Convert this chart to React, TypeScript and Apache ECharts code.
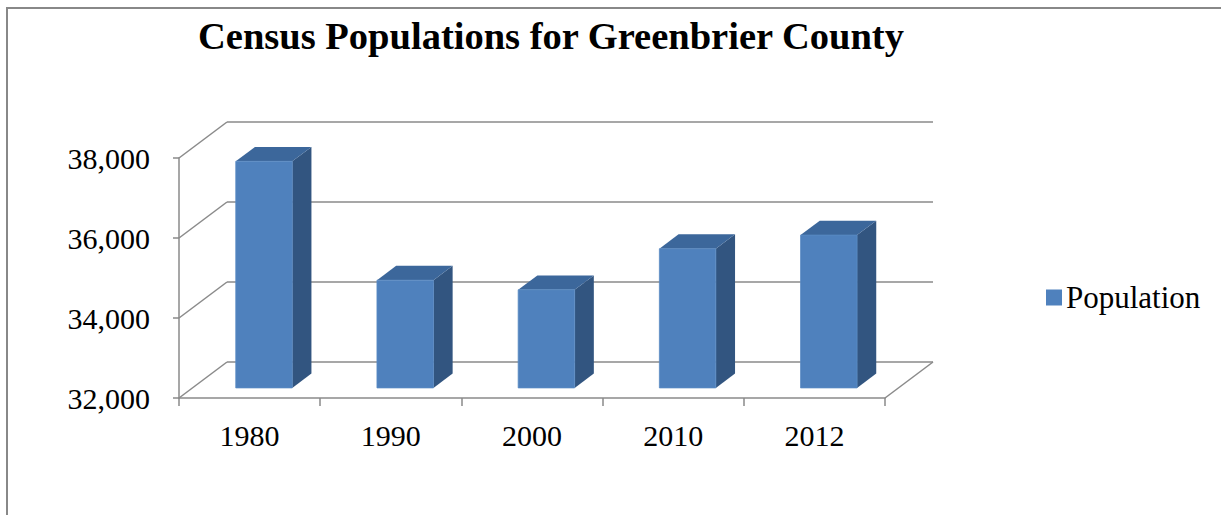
import React, { useEffect, useRef } from "react";
import * as echarts from "echarts";

const categories = ["1980", "1990", "2000", "2010", "2012"];
const population = [37665, 34693, 34453, 35480, 35820];
const yTicks = [32000, 34000, 36000, 38000];
const titleText = "Census Populations for Greenbrier County";
const seriesName = "Population";

const Y_MIN = 32000;
const Y_MAX = 38000;
const DX = 48;
const DY = -36;
const GRID_COLOR = "#8a8a8a";
const FONT = "'Liberation Serif', 'Times New Roman', serif";

export default function App() {
  const ref = useRef<HTMLDivElement>(null);
  useEffect(() => {
    if (!ref.current) return;
    const chart = echarts.init(ref.current, null, { renderer: "svg" });
    const barData = categories.map((c, i) => [i, population[i]]);
    const frameData = yTicks.map((v) => [0, v]);
    chart.setOption({
      animation: false,
      color: ["#4F81BD"],
      grid: { left: 179, right: 336, top: 158, bottom: 117, containLabel: false },
      graphic: [
        {
          type: "line",
          shape: { x1: 7, y1: 8, x2: 7, y2: 515 },
          style: { stroke: "#888888", lineWidth: 2 },
          silent: true,
        },
        {
          type: "line",
          shape: { x1: 6, y1: 8, x2: 1221, y2: 8 },
          style: { stroke: "#888888", lineWidth: 2 },
          silent: true,
        },
        {
          type: "text",
          x: 551,
          y: 36,
          style: {
            text: titleText,
            font: `bold 38.5px ${FONT}`,
            fill: "#000",
            textAlign: "center",
            textVerticalAlign: "middle",
          },
        },
      ],
      legend: {
        data: [seriesName],
        left: 1041,
        top: 277,
        icon: "rect",
        itemWidth: 16,
        itemHeight: 16,
        itemGap: 8,
        textStyle: { fontSize: 31, fontFamily: FONT, color: "#000", padding: [0, 0, 0, -1] },
      },
      xAxis: {
        type: "category",
        data: categories,
        axisLine: { lineStyle: { color: GRID_COLOR, width: 1.5 } },
        axisTick: { show: true, length: 8, lineStyle: { color: GRID_COLOR, width: 1.5 } },
        axisLabel: { fontSize: 30, fontFamily: FONT, color: "#000", margin: 22 },
        splitLine: { show: false },
      },
      yAxis: {
        type: "value",
        min: Y_MIN,
        max: Y_MAX,
        interval: 2000,
        axisLine: { show: true, lineStyle: { color: GRID_COLOR, width: 1.5 } },
        axisTick: { show: true, length: 6, lineStyle: { color: GRID_COLOR, width: 1.5 } },
        axisLabel: {
          fontSize: 30,
          fontFamily: FONT,
          color: "#000",
          margin: 29,
          formatter: (v: number) => v.toLocaleString("en-US"),
        },
        splitLine: { show: false },
      },
      series: [
        {
          type: "custom",
          name: "frame",
          z: 1,
          silent: true,
          data: frameData,
          encode: { x: 0, y: 1 },
          renderItem: (params: any, api: any) => {
            const cs = params.coordSys;
            const L = cs.x;
            const R = cs.x + cs.width;
            const v = api.value(1);
            const y = api.coord([0, v])[1];
            const style = { stroke: GRID_COLOR, lineWidth: 1.5, fill: "none" };
            const children: any[] = [
              { type: "line", shape: { x1: L, y1: y, x2: L + DX, y2: y + DY }, style },
              { type: "line", shape: { x1: L + DX, y1: y + DY, x2: R + DX, y2: y + DY }, style },
            ];
            if (v === Y_MIN) {
              children.push({ type: "line", shape: { x1: R, y1: y, x2: R + DX, y2: y + DY }, style });
            }
            return { type: "group", children };
          },
        },
        {
          type: "custom",
          name: seriesName,
          z: 2,
          itemStyle: { color: "#4F81BD" },
          data: barData,
          encode: { x: 0, y: 1 },
          renderItem: (params: any, api: any) => {
            const cat = api.value(0);
            const val = api.value(1);
            const top = api.coord([cat, val]);
            const bot = api.coord([cat, Y_MIN]);
            const bw = api.size([1, 0])[0] * 0.4;
            const fx = 0.3 * DX;
            const fy = 0.28 * DY;
            const ddx = 0.4 * DX;
            const ddy = 0.4 * DY;
            const x0 = top[0] - bw / 2 + fx;
            const x1 = x0 + bw;
            const yt = top[1] + fy;
            const yb = bot[1] + fy;
            return {
              type: "group",
              children: [
                {
                  type: "polygon",
                  shape: { points: [[x1, yt], [x1 + ddx, yt + ddy], [x1 + ddx, yb + ddy], [x1, yb]] },
                  style: { fill: "#325580" },
                },
                {
                  type: "polygon",
                  shape: { points: [[x0, yt], [x0 + ddx, yt + ddy], [x1 + ddx, yt + ddy], [x1, yt]] },
                  style: { fill: "#3c679b" },
                },
                {
                  type: "rect",
                  shape: { x: x0, y: yt, width: bw, height: yb - yt },
                  style: { fill: "#4F81BD", stroke: "#5a8bc4", lineWidth: 0.8 },
                },
              ],
            };
          },
        },
      ],
    });
    return () => chart.dispose();
  }, []);
  return (
    <div
      ref={ref}
      style={{ position: "fixed", left: 0, top: 0, width: 1221, height: 515, background: "#fff" }}
    />
  );
}
